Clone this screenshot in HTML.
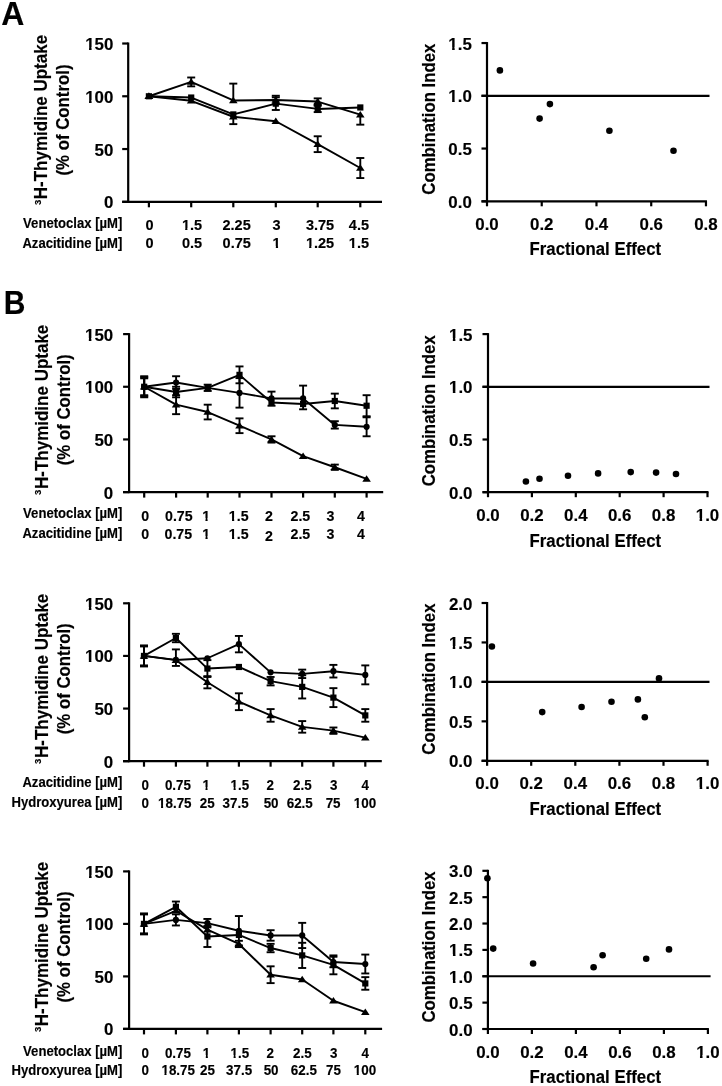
<!DOCTYPE html>
<html><head><meta charset="utf-8"><style>
html,body{margin:0;padding:0;background:#fff;width:722px;height:1086px;overflow:hidden}
svg{display:block;filter:grayscale(1)}
text{font-family:"Liberation Sans", sans-serif;fill:#000;stroke:#000;stroke-width:0.15px;stroke-linejoin:round}
</style></head><body>
<svg width="722" height="1086" viewBox="0 0 722 1086" stroke="#000" fill="#000">
<rect x="0" y="0" width="722" height="1086" fill="#fff" stroke="none"/>
<g stroke="#000" stroke-linecap="butt">
<g transform="translate(1.20 24.80) scale(1 1.05)"><text x="0" y="0" font-size="32" text-anchor="start" font-weight="bold">A</text></g>
<g transform="translate(3.70 314.10) scale(1 1.1)"><text x="0" y="0" font-size="30" text-anchor="start" font-weight="bold">B</text></g>
<line x1="128.20" y1="42.51" x2="128.20" y2="202.80" stroke-width="2.2"/>
<line x1="122.20" y1="201.80" x2="128.20" y2="201.80" stroke-width="2.2"/>
<g transform="translate(113.40 208.30) scale(1 1.03)"><text x="0" y="0" font-size="16.9" text-anchor="end" font-weight="bold">0</text></g>
<line x1="122.20" y1="149.04" x2="128.20" y2="149.04" stroke-width="2.2"/>
<g transform="translate(113.40 155.54) scale(1 1.03)"><text x="0" y="0" font-size="16.9" text-anchor="end" font-weight="bold">50</text></g>
<line x1="122.20" y1="96.27" x2="128.20" y2="96.27" stroke-width="2.2"/>
<g transform="translate(113.40 102.77) scale(1 1.03)"><text x="0" y="0" font-size="16.9" text-anchor="end" font-weight="bold">100</text></g>
<rect x="86.00" y="100.00" width="3.03" height="4.00" fill="#fff" stroke="none"/>
<rect x="91.59" y="100.00" width="3.33" height="4.00" fill="#fff" stroke="none"/>
<line x1="122.20" y1="43.51" x2="128.20" y2="43.51" stroke-width="2.2"/>
<g transform="translate(113.40 50.01) scale(1 1.03)"><text x="0" y="0" font-size="16.9" text-anchor="end" font-weight="bold">150</text></g>
<rect x="86.00" y="47.00" width="3.03" height="4.00" fill="#fff" stroke="none"/>
<rect x="91.59" y="47.00" width="3.19" height="4.00" fill="#fff" stroke="none"/>
<line x1="122.20" y1="201.80" x2="382.00" y2="201.80" stroke-width="2.2"/>
<line x1="148.90" y1="201.80" x2="148.90" y2="207.30" stroke-width="2.2"/>
<line x1="191.20" y1="201.80" x2="191.20" y2="207.30" stroke-width="2.2"/>
<line x1="233.30" y1="201.80" x2="233.30" y2="207.30" stroke-width="2.2"/>
<line x1="275.80" y1="201.80" x2="275.80" y2="207.30" stroke-width="2.2"/>
<line x1="317.70" y1="201.80" x2="317.70" y2="207.30" stroke-width="2.2"/>
<line x1="360.30" y1="201.80" x2="360.30" y2="207.30" stroke-width="2.2"/>
<g transform="translate(122.30 227.90) scale(1 1.05)"><text x="0" y="0" font-size="13.1" text-anchor="end" font-weight="bold">Venetoclax [µM]</text></g>
<g transform="translate(149.40 230.30) scale(1 1.05)"><text x="0" y="0" font-size="14.5" text-anchor="middle" font-weight="bold">0</text></g>
<g transform="translate(192.00 230.30) scale(1 1.05)"><text x="0" y="0" font-size="14.5" text-anchor="middle" font-weight="bold">1.5</text></g>
<rect x="182.00" y="228.00" width="3.19" height="3.00" fill="#fff" stroke="none"/>
<rect x="187.42" y="228.00" width="2.58" height="3.00" fill="#fff" stroke="none"/>
<g transform="translate(236.60 230.30) scale(1 1.05)"><text x="0" y="0" font-size="14.5" text-anchor="middle" font-weight="bold">2.25</text></g>
<g transform="translate(276.60 230.30) scale(1 1.05)"><text x="0" y="0" font-size="14.5" text-anchor="middle" font-weight="bold">3</text></g>
<g transform="translate(320.00 230.30) scale(1 1.05)"><text x="0" y="0" font-size="14.5" text-anchor="middle" font-weight="bold">3.75</text></g>
<g transform="translate(358.90 230.30) scale(1 1.05)"><text x="0" y="0" font-size="14.5" text-anchor="middle" font-weight="bold">4.5</text></g>
<g transform="translate(122.30 247.80) scale(1 1.05)"><text x="0" y="0" font-size="13.1" text-anchor="end" font-weight="bold">Azacitidine [µM]</text></g>
<g transform="translate(149.40 248.10) scale(1 1.05)"><text x="0" y="0" font-size="14.5" text-anchor="middle" font-weight="bold">0</text></g>
<g transform="translate(192.00 248.10) scale(1 1.05)"><text x="0" y="0" font-size="14.5" text-anchor="middle" font-weight="bold">0.5</text></g>
<g transform="translate(236.70 248.10) scale(1 1.05)"><text x="0" y="0" font-size="14.5" text-anchor="middle" font-weight="bold">0.75</text></g>
<g transform="translate(276.60 248.10) scale(1 1.05)"><text x="0" y="0" font-size="14.5" text-anchor="middle" font-weight="bold">1</text></g>
<rect x="273.00" y="246.00" width="2.83" height="3.00" fill="#fff" stroke="none"/>
<rect x="278.06" y="246.00" width="2.94" height="3.00" fill="#fff" stroke="none"/>
<g transform="translate(320.00 248.10) scale(1 1.05)"><text x="0" y="0" font-size="14.5" text-anchor="middle" font-weight="bold">1.25</text></g>
<rect x="306.00" y="246.00" width="3.15" height="3.00" fill="#fff" stroke="none"/>
<rect x="311.38" y="246.00" width="2.62" height="3.00" fill="#fff" stroke="none"/>
<g transform="translate(358.90 248.10) scale(1 1.05)"><text x="0" y="0" font-size="14.5" text-anchor="middle" font-weight="bold">1.5</text></g>
<rect x="349.00" y="246.00" width="3.09" height="3.00" fill="#fff" stroke="none"/>
<rect x="354.32" y="246.00" width="2.68" height="3.00" fill="#fff" stroke="none"/>
<g transform="translate(47.00 120.00) rotate(-90) scale(1 1.05)"><text x="0" y="0" font-size="16.8" text-anchor="middle" font-weight="bold"><tspan font-size="9.5" font-weight="bold" dy="-6.2">3</tspan><tspan dy="6.2" dx="0.6" font-size="17">H-Thymidine Uptake</tspan></text></g>
<g transform="translate(69.40 120.00) rotate(-90) scale(1 1.05)"><text x="0" y="0" font-size="16.8" text-anchor="middle" font-weight="bold">(% of Control)</text></g>
<polyline points="148.90,96.27 191.20,81.92 233.30,100.49 275.80,99.96 317.70,101.55 360.30,114.63" fill="none" stroke-width="1.9" stroke-linejoin="round"/>
<polyline points="148.90,96.27 191.20,97.54 233.30,114.42 275.80,103.66 317.70,108.93 360.30,107.46" fill="none" stroke-width="1.9" stroke-linejoin="round"/>
<polyline points="148.90,96.27 191.20,100.81 233.30,116.74 275.80,121.28 317.70,144.18 360.30,168.03" fill="none" stroke-width="1.9" stroke-linejoin="round"/>
<polygon points="148.90,92.57 153.20,99.07 144.60,99.07" stroke="none"/>
<line x1="191.20" y1="81.92" x2="191.20" y2="77.49" stroke-width="1.9"/>
<line x1="187.20" y1="77.49" x2="195.20" y2="77.49" stroke-width="1.9"/>
<line x1="191.20" y1="81.92" x2="191.20" y2="86.35" stroke-width="1.9"/>
<line x1="187.20" y1="86.35" x2="195.20" y2="86.35" stroke-width="1.9"/>
<polygon points="191.20,78.22 195.50,84.72 186.90,84.72" stroke="none"/>
<line x1="233.30" y1="100.49" x2="233.30" y2="83.61" stroke-width="1.9"/>
<line x1="229.30" y1="83.61" x2="237.30" y2="83.61" stroke-width="1.9"/>
<polygon points="233.30,96.79 237.60,103.29 229.00,103.29" stroke="none"/>
<line x1="275.80" y1="99.96" x2="275.80" y2="95.74" stroke-width="1.9"/>
<line x1="271.80" y1="95.74" x2="279.80" y2="95.74" stroke-width="1.9"/>
<line x1="275.80" y1="99.96" x2="275.80" y2="104.18" stroke-width="1.9"/>
<line x1="271.80" y1="104.18" x2="279.80" y2="104.18" stroke-width="1.9"/>
<polygon points="275.80,96.26 280.10,102.76 271.50,102.76" stroke="none"/>
<line x1="317.70" y1="101.55" x2="317.70" y2="98.38" stroke-width="1.9"/>
<line x1="313.70" y1="98.38" x2="321.70" y2="98.38" stroke-width="1.9"/>
<line x1="317.70" y1="101.55" x2="317.70" y2="104.71" stroke-width="1.9"/>
<line x1="313.70" y1="104.71" x2="321.70" y2="104.71" stroke-width="1.9"/>
<polygon points="317.70,97.85 322.00,104.35 313.40,104.35" stroke="none"/>
<line x1="360.30" y1="114.63" x2="360.30" y2="124.66" stroke-width="1.9"/>
<line x1="356.30" y1="124.66" x2="364.30" y2="124.66" stroke-width="1.9"/>
<polygon points="360.30,110.93 364.60,117.43 356.00,117.43" stroke="none"/>
<rect x="145.80" y="93.17" width="6.20" height="6.20" stroke="none"/>
<rect x="188.10" y="94.44" width="6.20" height="6.20" stroke="none"/>
<rect x="230.20" y="111.32" width="6.20" height="6.20" stroke="none"/>
<line x1="275.80" y1="103.66" x2="275.80" y2="97.33" stroke-width="1.9"/>
<line x1="271.80" y1="97.33" x2="279.80" y2="97.33" stroke-width="1.9"/>
<line x1="275.80" y1="103.66" x2="275.80" y2="109.99" stroke-width="1.9"/>
<line x1="271.80" y1="109.99" x2="279.80" y2="109.99" stroke-width="1.9"/>
<rect x="272.70" y="100.56" width="6.20" height="6.20" stroke="none"/>
<line x1="317.70" y1="108.93" x2="317.70" y2="105.77" stroke-width="1.9"/>
<line x1="313.70" y1="105.77" x2="321.70" y2="105.77" stroke-width="1.9"/>
<line x1="317.70" y1="108.93" x2="317.70" y2="112.10" stroke-width="1.9"/>
<line x1="313.70" y1="112.10" x2="321.70" y2="112.10" stroke-width="1.9"/>
<rect x="314.60" y="105.83" width="6.20" height="6.20" stroke="none"/>
<rect x="357.20" y="104.36" width="6.20" height="6.20" stroke="none"/>
<polygon points="148.90,92.57 153.20,99.07 144.60,99.07" stroke="none"/>
<polygon points="191.20,97.11 195.50,103.61 186.90,103.61" stroke="none"/>
<line x1="233.30" y1="116.74" x2="233.30" y2="124.13" stroke-width="1.9"/>
<line x1="229.30" y1="124.13" x2="237.30" y2="124.13" stroke-width="1.9"/>
<polygon points="233.30,113.04 237.60,119.54 229.00,119.54" stroke="none"/>
<polygon points="275.80,117.58 280.10,124.08 271.50,124.08" stroke="none"/>
<line x1="317.70" y1="144.18" x2="317.70" y2="136.27" stroke-width="1.9"/>
<line x1="313.70" y1="136.27" x2="321.70" y2="136.27" stroke-width="1.9"/>
<line x1="317.70" y1="144.18" x2="317.70" y2="152.10" stroke-width="1.9"/>
<line x1="313.70" y1="152.10" x2="321.70" y2="152.10" stroke-width="1.9"/>
<polygon points="317.70,140.48 322.00,146.98 313.40,146.98" stroke="none"/>
<line x1="360.30" y1="168.03" x2="360.30" y2="158.01" stroke-width="1.9"/>
<line x1="356.30" y1="158.01" x2="364.30" y2="158.01" stroke-width="1.9"/>
<line x1="360.30" y1="168.03" x2="360.30" y2="178.06" stroke-width="1.9"/>
<line x1="356.30" y1="178.06" x2="364.30" y2="178.06" stroke-width="1.9"/>
<polygon points="360.30,164.33 364.60,170.83 356.00,170.83" stroke="none"/>
<line x1="487.00" y1="42.05" x2="487.00" y2="202.30" stroke-width="2.2"/>
<line x1="481.50" y1="201.30" x2="487.00" y2="201.30" stroke-width="2.2"/>
<g transform="translate(471.80 207.80) scale(1 1.0)"><text x="0" y="0" font-size="16.9" text-anchor="end" font-weight="bold">0.0</text></g>
<line x1="481.50" y1="148.55" x2="487.00" y2="148.55" stroke-width="2.2"/>
<g transform="translate(471.80 155.05) scale(1 1.0)"><text x="0" y="0" font-size="16.9" text-anchor="end" font-weight="bold">0.5</text></g>
<line x1="481.50" y1="95.80" x2="487.00" y2="95.80" stroke-width="2.2"/>
<g transform="translate(471.80 102.30) scale(1 1.0)"><text x="0" y="0" font-size="16.9" text-anchor="end" font-weight="bold">1.0</text></g>
<rect x="449.00" y="100.00" width="3.13" height="3.00" fill="#fff" stroke="none"/>
<rect x="454.69" y="100.00" width="3.31" height="3.00" fill="#fff" stroke="none"/>
<line x1="481.50" y1="43.05" x2="487.00" y2="43.05" stroke-width="2.2"/>
<g transform="translate(471.80 49.55) scale(1 1.0)"><text x="0" y="0" font-size="16.9" text-anchor="end" font-weight="bold">1.5</text></g>
<rect x="449.00" y="47.00" width="3.13" height="3.00" fill="#fff" stroke="none"/>
<rect x="454.69" y="47.00" width="3.31" height="3.00" fill="#fff" stroke="none"/>
<line x1="481.50" y1="201.30" x2="706.96" y2="201.30" stroke-width="2.2"/>
<line x1="487.00" y1="201.30" x2="487.00" y2="206.30" stroke-width="2.2"/>
<g transform="translate(487.00 230.30) scale(1 1.0)"><text x="0" y="0" font-size="16.9" text-anchor="middle" font-weight="bold">0.0</text></g>
<line x1="541.74" y1="201.30" x2="541.74" y2="206.30" stroke-width="2.2"/>
<g transform="translate(541.74 230.30) scale(1 1.0)"><text x="0" y="0" font-size="16.9" text-anchor="middle" font-weight="bold">0.2</text></g>
<line x1="596.48" y1="201.30" x2="596.48" y2="206.30" stroke-width="2.2"/>
<g transform="translate(596.48 230.30) scale(1 1.0)"><text x="0" y="0" font-size="16.9" text-anchor="middle" font-weight="bold">0.4</text></g>
<line x1="651.22" y1="201.30" x2="651.22" y2="206.30" stroke-width="2.2"/>
<g transform="translate(651.22 230.30) scale(1 1.0)"><text x="0" y="0" font-size="16.9" text-anchor="middle" font-weight="bold">0.6</text></g>
<line x1="705.96" y1="201.30" x2="705.96" y2="206.30" stroke-width="2.2"/>
<g transform="translate(705.96 230.30) scale(1 1.0)"><text x="0" y="0" font-size="16.9" text-anchor="middle" font-weight="bold">0.8</text></g>
<line x1="481.50" y1="95.80" x2="709.50" y2="95.80" stroke-width="2.2"/>
<g transform="translate(595.30 254.90) scale(1 1.05)"><text x="0" y="0" font-size="16.8" text-anchor="middle" font-weight="bold">Fractional Effect</text></g>
<g transform="translate(434.60 119.15) rotate(-90) scale(1 1.05)"><text x="0" y="0" font-size="16.8" text-anchor="middle" font-weight="bold">Combination Index</text></g>
<circle cx="499.90" cy="70.40" r="3.3" stroke="none"/>
<circle cx="539.60" cy="118.60" r="3.3" stroke="none"/>
<circle cx="549.90" cy="104.10" r="3.3" stroke="none"/>
<circle cx="609.40" cy="130.70" r="3.3" stroke="none"/>
<circle cx="673.50" cy="150.80" r="3.3" stroke="none"/>
<line x1="129.10" y1="333.11" x2="129.10" y2="493.10" stroke-width="2.2"/>
<line x1="123.10" y1="492.10" x2="129.10" y2="492.10" stroke-width="2.2"/>
<g transform="translate(113.20 498.60) scale(1 1.03)"><text x="0" y="0" font-size="16.9" text-anchor="end" font-weight="bold">0</text></g>
<line x1="123.10" y1="439.44" x2="129.10" y2="439.44" stroke-width="2.2"/>
<g transform="translate(113.20 445.94) scale(1 1.03)"><text x="0" y="0" font-size="16.9" text-anchor="end" font-weight="bold">50</text></g>
<line x1="123.10" y1="386.77" x2="129.10" y2="386.77" stroke-width="2.2"/>
<g transform="translate(113.20 393.27) scale(1 1.03)"><text x="0" y="0" font-size="16.9" text-anchor="end" font-weight="bold">100</text></g>
<rect x="85.00" y="391.00" width="3.83" height="3.00" fill="#fff" stroke="none"/>
<rect x="91.39" y="391.00" width="3.33" height="3.00" fill="#fff" stroke="none"/>
<line x1="123.10" y1="334.11" x2="129.10" y2="334.11" stroke-width="2.2"/>
<g transform="translate(113.20 340.61) scale(1 1.03)"><text x="0" y="0" font-size="16.9" text-anchor="end" font-weight="bold">150</text></g>
<rect x="85.00" y="338.00" width="3.83" height="3.00" fill="#fff" stroke="none"/>
<rect x="91.39" y="338.00" width="3.19" height="3.00" fill="#fff" stroke="none"/>
<line x1="123.10" y1="492.10" x2="383.20" y2="492.10" stroke-width="2.2"/>
<line x1="144.20" y1="492.10" x2="144.20" y2="497.60" stroke-width="2.2"/>
<line x1="176.10" y1="492.10" x2="176.10" y2="497.60" stroke-width="2.2"/>
<line x1="207.70" y1="492.10" x2="207.70" y2="497.60" stroke-width="2.2"/>
<line x1="239.50" y1="492.10" x2="239.50" y2="497.60" stroke-width="2.2"/>
<line x1="271.50" y1="492.10" x2="271.50" y2="497.60" stroke-width="2.2"/>
<line x1="303.10" y1="492.10" x2="303.10" y2="497.60" stroke-width="2.2"/>
<line x1="334.80" y1="492.10" x2="334.80" y2="497.60" stroke-width="2.2"/>
<line x1="366.60" y1="492.10" x2="366.60" y2="497.60" stroke-width="2.2"/>
<g transform="translate(122.30 517.90) scale(1 1.05)"><text x="0" y="0" font-size="13.1" text-anchor="end" font-weight="bold">Venetoclax [µM]</text></g>
<g transform="translate(145.10 520.60) scale(1 1.05)"><text x="0" y="0" font-size="14.2" text-anchor="middle" font-weight="bold">0</text></g>
<g transform="translate(178.80 520.60) scale(1 1.05)"><text x="0" y="0" font-size="14.2" text-anchor="middle" font-weight="bold">0.75</text></g>
<g transform="translate(206.20 520.60) scale(1 1.05)"><text x="0" y="0" font-size="14.2" text-anchor="middle" font-weight="bold">1</text></g>
<rect x="202.00" y="518.00" width="3.45" height="3.00" fill="#fff" stroke="none"/>
<rect x="207.63" y="518.00" width="2.37" height="3.00" fill="#fff" stroke="none"/>
<g transform="translate(238.70 520.60) scale(1 1.05)"><text x="0" y="0" font-size="14.2" text-anchor="middle" font-weight="bold">1.5</text></g>
<rect x="229.00" y="518.00" width="3.02" height="3.00" fill="#fff" stroke="none"/>
<rect x="234.21" y="518.00" width="2.79" height="3.00" fill="#fff" stroke="none"/>
<g transform="translate(268.90 520.60) scale(1 1.05)"><text x="0" y="0" font-size="14.2" text-anchor="middle" font-weight="bold">2</text></g>
<g transform="translate(300.40 520.60) scale(1 1.05)"><text x="0" y="0" font-size="14.2" text-anchor="middle" font-weight="bold">2.5</text></g>
<g transform="translate(330.50 520.60) scale(1 1.05)"><text x="0" y="0" font-size="14.2" text-anchor="middle" font-weight="bold">3</text></g>
<g transform="translate(361.00 520.60) scale(1 1.05)"><text x="0" y="0" font-size="14.2" text-anchor="middle" font-weight="bold">4</text></g>
<g transform="translate(122.30 537.80) scale(1 1.05)"><text x="0" y="0" font-size="13.1" text-anchor="end" font-weight="bold">Azacitidine [µM]</text></g>
<g transform="translate(145.10 538.50) scale(1 1.05)"><text x="0" y="0" font-size="14.2" text-anchor="middle" font-weight="bold">0</text></g>
<g transform="translate(178.30 538.50) scale(1 1.05)"><text x="0" y="0" font-size="14.2" text-anchor="middle" font-weight="bold">0.75</text></g>
<g transform="translate(206.20 538.50) scale(1 1.05)"><text x="0" y="0" font-size="14.2" text-anchor="middle" font-weight="bold">1</text></g>
<rect x="202.00" y="536.00" width="3.45" height="3.00" fill="#fff" stroke="none"/>
<rect x="207.63" y="536.00" width="2.37" height="3.00" fill="#fff" stroke="none"/>
<g transform="translate(238.70 538.50) scale(1 1.05)"><text x="0" y="0" font-size="14.2" text-anchor="middle" font-weight="bold">1.5</text></g>
<rect x="229.00" y="536.00" width="3.02" height="3.00" fill="#fff" stroke="none"/>
<rect x="234.21" y="536.00" width="2.79" height="3.00" fill="#fff" stroke="none"/>
<g transform="translate(268.90 540.90) scale(1 1.05)"><text x="0" y="0" font-size="14.2" text-anchor="middle" font-weight="bold">2</text></g>
<g transform="translate(300.40 538.50) scale(1 1.05)"><text x="0" y="0" font-size="14.2" text-anchor="middle" font-weight="bold">2.5</text></g>
<g transform="translate(330.50 538.50) scale(1 1.05)"><text x="0" y="0" font-size="14.2" text-anchor="middle" font-weight="bold">3</text></g>
<g transform="translate(361.00 538.50) scale(1 1.05)"><text x="0" y="0" font-size="14.2" text-anchor="middle" font-weight="bold">4</text></g>
<g transform="translate(47.60 409.80) rotate(-90) scale(1 1.05)"><text x="0" y="0" font-size="16.8" text-anchor="middle" font-weight="bold"><tspan font-size="9.5" font-weight="bold" dy="-6.2">3</tspan><tspan dy="6.2" dx="0.6" font-size="17">H-Thymidine Uptake</tspan></text></g>
<g transform="translate(69.90 409.80) rotate(-90) scale(1 1.05)"><text x="0" y="0" font-size="16.8" text-anchor="middle" font-weight="bold">(% of Control)</text></g>
<polyline points="144.20,386.77 176.10,392.04 207.70,387.82 239.50,374.87 271.50,402.57 303.10,404.04 334.80,400.99 366.60,405.73" fill="none" stroke-width="1.9" stroke-linejoin="round"/>
<polyline points="144.20,386.77 176.10,382.56 207.70,387.82 239.50,392.88 271.50,398.46 303.10,398.46 334.80,424.90 366.60,426.80" fill="none" stroke-width="1.9" stroke-linejoin="round"/>
<polyline points="144.20,386.77 176.10,404.68 207.70,412.05 239.50,425.74 271.50,439.44 303.10,456.08 334.80,467.24 366.60,478.83" fill="none" stroke-width="1.9" stroke-linejoin="round"/>
<line x1="144.20" y1="386.77" x2="144.20" y2="376.24" stroke-width="1.9"/>
<line x1="140.20" y1="376.24" x2="148.20" y2="376.24" stroke-width="1.9"/>
<line x1="144.20" y1="386.77" x2="144.20" y2="397.30" stroke-width="1.9"/>
<line x1="140.20" y1="397.30" x2="148.20" y2="397.30" stroke-width="1.9"/>
<rect x="141.10" y="383.67" width="6.20" height="6.20" stroke="none"/>
<line x1="176.10" y1="392.04" x2="176.10" y2="386.77" stroke-width="1.9"/>
<line x1="172.10" y1="386.77" x2="180.10" y2="386.77" stroke-width="1.9"/>
<line x1="176.10" y1="392.04" x2="176.10" y2="397.30" stroke-width="1.9"/>
<line x1="172.10" y1="397.30" x2="180.10" y2="397.30" stroke-width="1.9"/>
<rect x="173.00" y="388.94" width="6.20" height="6.20" stroke="none"/>
<line x1="207.70" y1="387.82" x2="207.70" y2="384.66" stroke-width="1.9"/>
<line x1="203.70" y1="384.66" x2="211.70" y2="384.66" stroke-width="1.9"/>
<line x1="207.70" y1="387.82" x2="207.70" y2="390.98" stroke-width="1.9"/>
<line x1="203.70" y1="390.98" x2="211.70" y2="390.98" stroke-width="1.9"/>
<rect x="204.60" y="384.72" width="6.20" height="6.20" stroke="none"/>
<line x1="239.50" y1="374.87" x2="239.50" y2="366.44" stroke-width="1.9"/>
<line x1="235.50" y1="366.44" x2="243.50" y2="366.44" stroke-width="1.9"/>
<line x1="239.50" y1="374.87" x2="239.50" y2="383.29" stroke-width="1.9"/>
<line x1="235.50" y1="383.29" x2="243.50" y2="383.29" stroke-width="1.9"/>
<rect x="236.40" y="371.77" width="6.20" height="6.20" stroke="none"/>
<line x1="271.50" y1="402.57" x2="271.50" y2="405.73" stroke-width="1.9"/>
<line x1="267.50" y1="405.73" x2="275.50" y2="405.73" stroke-width="1.9"/>
<rect x="268.40" y="399.47" width="6.20" height="6.20" stroke="none"/>
<line x1="303.10" y1="404.04" x2="303.10" y2="409.31" stroke-width="1.9"/>
<line x1="299.10" y1="409.31" x2="307.10" y2="409.31" stroke-width="1.9"/>
<rect x="300.00" y="400.94" width="6.20" height="6.20" stroke="none"/>
<line x1="334.80" y1="400.99" x2="334.80" y2="393.62" stroke-width="1.9"/>
<line x1="330.80" y1="393.62" x2="338.80" y2="393.62" stroke-width="1.9"/>
<line x1="334.80" y1="400.99" x2="334.80" y2="408.36" stroke-width="1.9"/>
<line x1="330.80" y1="408.36" x2="338.80" y2="408.36" stroke-width="1.9"/>
<rect x="331.70" y="397.89" width="6.20" height="6.20" stroke="none"/>
<line x1="366.60" y1="405.73" x2="366.60" y2="395.20" stroke-width="1.9"/>
<line x1="362.60" y1="395.20" x2="370.60" y2="395.20" stroke-width="1.9"/>
<line x1="366.60" y1="405.73" x2="366.60" y2="416.26" stroke-width="1.9"/>
<line x1="362.60" y1="416.26" x2="370.60" y2="416.26" stroke-width="1.9"/>
<rect x="363.50" y="402.63" width="6.20" height="6.20" stroke="none"/>
<line x1="144.20" y1="386.77" x2="144.20" y2="378.34" stroke-width="1.9"/>
<line x1="140.20" y1="378.34" x2="148.20" y2="378.34" stroke-width="1.9"/>
<line x1="144.20" y1="386.77" x2="144.20" y2="395.20" stroke-width="1.9"/>
<line x1="140.20" y1="395.20" x2="148.20" y2="395.20" stroke-width="1.9"/>
<circle cx="144.20" cy="386.77" r="3.10" stroke="none"/>
<line x1="176.10" y1="382.56" x2="176.10" y2="376.24" stroke-width="1.9"/>
<line x1="172.10" y1="376.24" x2="180.10" y2="376.24" stroke-width="1.9"/>
<line x1="176.10" y1="382.56" x2="176.10" y2="388.88" stroke-width="1.9"/>
<line x1="172.10" y1="388.88" x2="180.10" y2="388.88" stroke-width="1.9"/>
<circle cx="176.10" cy="382.56" r="3.10" stroke="none"/>
<circle cx="207.70" cy="387.82" r="3.10" stroke="none"/>
<line x1="239.50" y1="392.88" x2="239.50" y2="378.13" stroke-width="1.9"/>
<line x1="235.50" y1="378.13" x2="243.50" y2="378.13" stroke-width="1.9"/>
<line x1="239.50" y1="392.88" x2="239.50" y2="407.63" stroke-width="1.9"/>
<line x1="235.50" y1="407.63" x2="243.50" y2="407.63" stroke-width="1.9"/>
<circle cx="239.50" cy="392.88" r="3.10" stroke="none"/>
<line x1="271.50" y1="398.46" x2="271.50" y2="391.62" stroke-width="1.9"/>
<line x1="267.50" y1="391.62" x2="275.50" y2="391.62" stroke-width="1.9"/>
<circle cx="271.50" cy="398.46" r="3.10" stroke="none"/>
<line x1="303.10" y1="398.46" x2="303.10" y2="385.61" stroke-width="1.9"/>
<line x1="299.10" y1="385.61" x2="307.10" y2="385.61" stroke-width="1.9"/>
<circle cx="303.10" cy="398.46" r="3.10" stroke="none"/>
<line x1="334.80" y1="424.90" x2="334.80" y2="421.21" stroke-width="1.9"/>
<line x1="330.80" y1="421.21" x2="338.80" y2="421.21" stroke-width="1.9"/>
<line x1="334.80" y1="424.90" x2="334.80" y2="428.59" stroke-width="1.9"/>
<line x1="330.80" y1="428.59" x2="338.80" y2="428.59" stroke-width="1.9"/>
<circle cx="334.80" cy="424.90" r="3.10" stroke="none"/>
<line x1="366.60" y1="426.80" x2="366.60" y2="417.32" stroke-width="1.9"/>
<line x1="362.60" y1="417.32" x2="370.60" y2="417.32" stroke-width="1.9"/>
<line x1="366.60" y1="426.80" x2="366.60" y2="436.28" stroke-width="1.9"/>
<line x1="362.60" y1="436.28" x2="370.60" y2="436.28" stroke-width="1.9"/>
<circle cx="366.60" cy="426.80" r="3.10" stroke="none"/>
<line x1="144.20" y1="386.77" x2="144.20" y2="377.29" stroke-width="1.9"/>
<line x1="140.20" y1="377.29" x2="148.20" y2="377.29" stroke-width="1.9"/>
<line x1="144.20" y1="386.77" x2="144.20" y2="396.25" stroke-width="1.9"/>
<line x1="140.20" y1="396.25" x2="148.20" y2="396.25" stroke-width="1.9"/>
<polygon points="144.20,383.07 148.50,389.57 139.90,389.57" stroke="none"/>
<line x1="176.10" y1="404.68" x2="176.10" y2="395.20" stroke-width="1.9"/>
<line x1="172.10" y1="395.20" x2="180.10" y2="395.20" stroke-width="1.9"/>
<line x1="176.10" y1="404.68" x2="176.10" y2="414.16" stroke-width="1.9"/>
<line x1="172.10" y1="414.16" x2="180.10" y2="414.16" stroke-width="1.9"/>
<polygon points="176.10,400.98 180.40,407.48 171.80,407.48" stroke="none"/>
<line x1="207.70" y1="412.05" x2="207.70" y2="404.68" stroke-width="1.9"/>
<line x1="203.70" y1="404.68" x2="211.70" y2="404.68" stroke-width="1.9"/>
<line x1="207.70" y1="412.05" x2="207.70" y2="419.42" stroke-width="1.9"/>
<line x1="203.70" y1="419.42" x2="211.70" y2="419.42" stroke-width="1.9"/>
<polygon points="207.70,408.35 212.00,414.85 203.40,414.85" stroke="none"/>
<line x1="239.50" y1="425.74" x2="239.50" y2="418.37" stroke-width="1.9"/>
<line x1="235.50" y1="418.37" x2="243.50" y2="418.37" stroke-width="1.9"/>
<line x1="239.50" y1="425.74" x2="239.50" y2="433.12" stroke-width="1.9"/>
<line x1="235.50" y1="433.12" x2="243.50" y2="433.12" stroke-width="1.9"/>
<polygon points="239.50,422.04 243.80,428.54 235.20,428.54" stroke="none"/>
<line x1="271.50" y1="439.44" x2="271.50" y2="436.28" stroke-width="1.9"/>
<line x1="267.50" y1="436.28" x2="275.50" y2="436.28" stroke-width="1.9"/>
<line x1="271.50" y1="439.44" x2="271.50" y2="442.59" stroke-width="1.9"/>
<line x1="267.50" y1="442.59" x2="275.50" y2="442.59" stroke-width="1.9"/>
<polygon points="271.50,435.74 275.80,442.24 267.20,442.24" stroke="none"/>
<polygon points="303.10,452.38 307.40,458.88 298.80,458.88" stroke="none"/>
<line x1="334.80" y1="467.24" x2="334.80" y2="464.61" stroke-width="1.9"/>
<line x1="330.80" y1="464.61" x2="338.80" y2="464.61" stroke-width="1.9"/>
<line x1="334.80" y1="467.24" x2="334.80" y2="469.88" stroke-width="1.9"/>
<line x1="330.80" y1="469.88" x2="338.80" y2="469.88" stroke-width="1.9"/>
<polygon points="334.80,463.54 339.10,470.04 330.50,470.04" stroke="none"/>
<polygon points="366.60,475.13 370.90,481.63 362.30,481.63" stroke="none"/>
<line x1="488.00" y1="333.10" x2="488.00" y2="493.20" stroke-width="2.2"/>
<line x1="482.50" y1="492.20" x2="488.00" y2="492.20" stroke-width="2.2"/>
<g transform="translate(472.50 498.70) scale(1 1.0)"><text x="0" y="0" font-size="16.9" text-anchor="end" font-weight="bold">0.0</text></g>
<line x1="482.50" y1="439.50" x2="488.00" y2="439.50" stroke-width="2.2"/>
<g transform="translate(472.50 446.00) scale(1 1.0)"><text x="0" y="0" font-size="16.9" text-anchor="end" font-weight="bold">0.5</text></g>
<line x1="482.50" y1="386.80" x2="488.00" y2="386.80" stroke-width="2.2"/>
<g transform="translate(472.50 393.30) scale(1 1.0)"><text x="0" y="0" font-size="16.9" text-anchor="end" font-weight="bold">1.0</text></g>
<rect x="449.00" y="391.00" width="3.83" height="3.00" fill="#fff" stroke="none"/>
<rect x="455.39" y="391.00" width="3.61" height="3.00" fill="#fff" stroke="none"/>
<line x1="482.50" y1="334.10" x2="488.00" y2="334.10" stroke-width="2.2"/>
<g transform="translate(472.50 340.60) scale(1 1.0)"><text x="0" y="0" font-size="16.9" text-anchor="end" font-weight="bold">1.5</text></g>
<rect x="449.00" y="338.00" width="3.83" height="3.00" fill="#fff" stroke="none"/>
<rect x="455.39" y="338.00" width="3.61" height="3.00" fill="#fff" stroke="none"/>
<line x1="482.50" y1="492.20" x2="708.50" y2="492.20" stroke-width="2.2"/>
<line x1="488.00" y1="492.20" x2="488.00" y2="497.20" stroke-width="2.2"/>
<g transform="translate(488.00 521.00) scale(1 1.0)"><text x="0" y="0" font-size="16.9" text-anchor="middle" font-weight="bold">0.0</text></g>
<line x1="531.90" y1="492.20" x2="531.90" y2="497.20" stroke-width="2.2"/>
<g transform="translate(531.90 521.00) scale(1 1.0)"><text x="0" y="0" font-size="16.9" text-anchor="middle" font-weight="bold">0.2</text></g>
<line x1="575.80" y1="492.20" x2="575.80" y2="497.20" stroke-width="2.2"/>
<g transform="translate(575.80 521.00) scale(1 1.0)"><text x="0" y="0" font-size="16.9" text-anchor="middle" font-weight="bold">0.4</text></g>
<line x1="619.70" y1="492.20" x2="619.70" y2="497.20" stroke-width="2.2"/>
<g transform="translate(619.70 521.00) scale(1 1.0)"><text x="0" y="0" font-size="16.9" text-anchor="middle" font-weight="bold">0.6</text></g>
<line x1="663.60" y1="492.20" x2="663.60" y2="497.20" stroke-width="2.2"/>
<g transform="translate(663.60 521.00) scale(1 1.0)"><text x="0" y="0" font-size="16.9" text-anchor="middle" font-weight="bold">0.8</text></g>
<line x1="707.50" y1="492.20" x2="707.50" y2="497.20" stroke-width="2.2"/>
<g transform="translate(707.50 521.00) scale(1 1.0)"><text x="0" y="0" font-size="16.9" text-anchor="middle" font-weight="bold">1.0</text></g>
<rect x="696.00" y="518.00" width="3.58" height="4.00" fill="#fff" stroke="none"/>
<rect x="702.14" y="518.00" width="2.86" height="4.00" fill="#fff" stroke="none"/>
<line x1="482.50" y1="386.80" x2="709.50" y2="386.80" stroke-width="2.2"/>
<g transform="translate(595.30 547.10) scale(1 1.05)"><text x="0" y="0" font-size="16.8" text-anchor="middle" font-weight="bold">Fractional Effect</text></g>
<g transform="translate(434.60 410.80) rotate(-90) scale(1 1.05)"><text x="0" y="0" font-size="16.8" text-anchor="middle" font-weight="bold">Combination Index</text></g>
<circle cx="525.90" cy="481.50" r="3.3" stroke="none"/>
<circle cx="539.50" cy="478.80" r="3.3" stroke="none"/>
<circle cx="568.00" cy="475.70" r="3.3" stroke="none"/>
<circle cx="598.10" cy="473.40" r="3.3" stroke="none"/>
<circle cx="630.70" cy="472.10" r="3.3" stroke="none"/>
<circle cx="656.10" cy="472.60" r="3.3" stroke="none"/>
<circle cx="676.00" cy="474.00" r="3.3" stroke="none"/>
<line x1="129.10" y1="602.30" x2="129.10" y2="762.20" stroke-width="2.2"/>
<line x1="123.10" y1="761.20" x2="129.10" y2="761.20" stroke-width="2.2"/>
<g transform="translate(113.20 767.70) scale(1 1.03)"><text x="0" y="0" font-size="16.9" text-anchor="end" font-weight="bold">0</text></g>
<line x1="123.10" y1="708.57" x2="129.10" y2="708.57" stroke-width="2.2"/>
<g transform="translate(113.20 715.07) scale(1 1.03)"><text x="0" y="0" font-size="16.9" text-anchor="end" font-weight="bold">50</text></g>
<line x1="123.10" y1="655.93" x2="129.10" y2="655.93" stroke-width="2.2"/>
<g transform="translate(113.20 662.43) scale(1 1.03)"><text x="0" y="0" font-size="16.9" text-anchor="end" font-weight="bold">100</text></g>
<rect x="85.00" y="660.00" width="3.83" height="3.00" fill="#fff" stroke="none"/>
<rect x="91.39" y="660.00" width="3.33" height="3.00" fill="#fff" stroke="none"/>
<line x1="123.10" y1="603.30" x2="129.10" y2="603.30" stroke-width="2.2"/>
<g transform="translate(113.20 609.80) scale(1 1.03)"><text x="0" y="0" font-size="16.9" text-anchor="end" font-weight="bold">150</text></g>
<rect x="85.00" y="607.00" width="3.83" height="4.00" fill="#fff" stroke="none"/>
<rect x="91.39" y="607.00" width="3.19" height="4.00" fill="#fff" stroke="none"/>
<line x1="123.10" y1="761.20" x2="381.80" y2="761.20" stroke-width="2.2"/>
<line x1="144.00" y1="761.20" x2="144.00" y2="766.70" stroke-width="2.2"/>
<line x1="175.90" y1="761.20" x2="175.90" y2="766.70" stroke-width="2.2"/>
<line x1="207.40" y1="761.20" x2="207.40" y2="766.70" stroke-width="2.2"/>
<line x1="238.90" y1="761.20" x2="238.90" y2="766.70" stroke-width="2.2"/>
<line x1="270.60" y1="761.20" x2="270.60" y2="766.70" stroke-width="2.2"/>
<line x1="302.20" y1="761.20" x2="302.20" y2="766.70" stroke-width="2.2"/>
<line x1="333.40" y1="761.20" x2="333.40" y2="766.70" stroke-width="2.2"/>
<line x1="365.30" y1="761.20" x2="365.30" y2="766.70" stroke-width="2.2"/>
<g transform="translate(122.30 787.00) scale(1 1.05)"><text x="0" y="0" font-size="13.1" text-anchor="end" font-weight="bold">Azacitidine [µM]</text></g>
<g transform="translate(145.10 789.60) scale(1 1.05)"><text x="0" y="0" font-size="13.4" text-anchor="middle" font-weight="bold">0</text></g>
<g transform="translate(177.90 789.60) scale(1 1.05)"><text x="0" y="0" font-size="13.4" text-anchor="middle" font-weight="bold">0.75</text></g>
<g transform="translate(206.20 789.60) scale(1 1.05)"><text x="0" y="0" font-size="13.4" text-anchor="middle" font-weight="bold">1</text></g>
<rect x="203.00" y="787.00" width="2.48" height="3.00" fill="#fff" stroke="none"/>
<rect x="207.56" y="787.00" width="2.44" height="3.00" fill="#fff" stroke="none"/>
<g transform="translate(239.90 789.60) scale(1 1.05)"><text x="0" y="0" font-size="13.4" text-anchor="middle" font-weight="bold">1.5</text></g>
<rect x="231.00" y="787.00" width="2.59" height="3.00" fill="#fff" stroke="none"/>
<rect x="235.67" y="787.00" width="2.33" height="3.00" fill="#fff" stroke="none"/>
<g transform="translate(270.20 789.60) scale(1 1.05)"><text x="0" y="0" font-size="13.4" text-anchor="middle" font-weight="bold">2</text></g>
<g transform="translate(302.30 789.60) scale(1 1.05)"><text x="0" y="0" font-size="13.4" text-anchor="middle" font-weight="bold">2.5</text></g>
<g transform="translate(333.60 789.60) scale(1 1.05)"><text x="0" y="0" font-size="13.4" text-anchor="middle" font-weight="bold">3</text></g>
<g transform="translate(365.10 789.60) scale(1 1.05)"><text x="0" y="0" font-size="13.4" text-anchor="middle" font-weight="bold">4</text></g>
<g transform="translate(122.30 807.40) scale(1 1.05)"><text x="0" y="0" font-size="13.1" text-anchor="end" font-weight="bold">Hydroxyurea [µM]</text></g>
<g transform="translate(145.10 807.60) scale(1 1.05)"><text x="0" y="0" font-size="13.4" text-anchor="middle" font-weight="bold">0</text></g>
<g transform="translate(174.80 807.60) scale(1 1.05)"><text x="0" y="0" font-size="13.4" text-anchor="middle" font-weight="bold">18.75</text></g>
<rect x="158.00" y="805.00" width="3.04" height="3.00" fill="#fff" stroke="none"/>
<rect x="163.12" y="805.00" width="2.44" height="3.00" fill="#fff" stroke="none"/>
<g transform="translate(207.20 807.60) scale(1 1.05)"><text x="0" y="0" font-size="13.4" text-anchor="middle" font-weight="bold">25</text></g>
<g transform="translate(235.60 807.60) scale(1 1.05)"><text x="0" y="0" font-size="13.4" text-anchor="middle" font-weight="bold">37.5</text></g>
<g transform="translate(271.10 807.60) scale(1 1.05)"><text x="0" y="0" font-size="13.4" text-anchor="middle" font-weight="bold">50</text></g>
<g transform="translate(299.70 807.60) scale(1 1.05)"><text x="0" y="0" font-size="13.4" text-anchor="middle" font-weight="bold">62.5</text></g>
<g transform="translate(333.10 807.60) scale(1 1.05)"><text x="0" y="0" font-size="13.4" text-anchor="middle" font-weight="bold">75</text></g>
<g transform="translate(364.90 807.60) scale(1 1.05)"><text x="0" y="0" font-size="13.4" text-anchor="middle" font-weight="bold">100</text></g>
<rect x="354.00" y="805.00" width="2.73" height="3.00" fill="#fff" stroke="none"/>
<rect x="358.81" y="805.00" width="2.55" height="3.00" fill="#fff" stroke="none"/>
<g transform="translate(47.60 678.80) rotate(-90) scale(1 1.05)"><text x="0" y="0" font-size="16.8" text-anchor="middle" font-weight="bold"><tspan font-size="9.5" font-weight="bold" dy="-6.2">3</tspan><tspan dy="6.2" dx="0.6" font-size="17">H-Thymidine Uptake</tspan></text></g>
<g transform="translate(69.90 678.80) rotate(-90) scale(1 1.05)"><text x="0" y="0" font-size="16.8" text-anchor="middle" font-weight="bold">(% of Control)</text></g>
<polyline points="144.00,655.93 175.90,638.03 207.40,668.56 238.90,666.98 270.60,681.19 302.20,686.88 333.40,697.62 365.30,715.41" fill="none" stroke-width="1.9" stroke-linejoin="round"/>
<polyline points="144.00,655.93 175.90,659.93 207.40,658.25 238.90,644.14 270.60,672.35 302.20,673.83 333.40,671.19 365.30,674.88" fill="none" stroke-width="1.9" stroke-linejoin="round"/>
<polyline points="144.00,655.93 175.90,660.14 207.40,682.25 238.90,701.72 270.60,715.41 302.20,726.88 333.40,730.67 365.30,737.62" fill="none" stroke-width="1.9" stroke-linejoin="round"/>
<line x1="144.00" y1="655.93" x2="144.00" y2="645.40" stroke-width="1.9"/>
<line x1="140.00" y1="645.40" x2="148.00" y2="645.40" stroke-width="1.9"/>
<line x1="144.00" y1="655.93" x2="144.00" y2="666.46" stroke-width="1.9"/>
<line x1="140.00" y1="666.46" x2="148.00" y2="666.46" stroke-width="1.9"/>
<rect x="140.90" y="652.83" width="6.20" height="6.20" stroke="none"/>
<line x1="175.90" y1="638.03" x2="175.90" y2="633.82" stroke-width="1.9"/>
<line x1="171.90" y1="633.82" x2="179.90" y2="633.82" stroke-width="1.9"/>
<line x1="175.90" y1="638.03" x2="175.90" y2="642.24" stroke-width="1.9"/>
<line x1="171.90" y1="642.24" x2="179.90" y2="642.24" stroke-width="1.9"/>
<rect x="172.80" y="634.93" width="6.20" height="6.20" stroke="none"/>
<line x1="207.40" y1="668.56" x2="207.40" y2="660.14" stroke-width="1.9"/>
<line x1="203.40" y1="660.14" x2="211.40" y2="660.14" stroke-width="1.9"/>
<line x1="207.40" y1="668.56" x2="207.40" y2="676.98" stroke-width="1.9"/>
<line x1="203.40" y1="676.98" x2="211.40" y2="676.98" stroke-width="1.9"/>
<rect x="204.30" y="665.46" width="6.20" height="6.20" stroke="none"/>
<rect x="235.80" y="663.88" width="6.20" height="6.20" stroke="none"/>
<line x1="270.60" y1="681.19" x2="270.60" y2="676.98" stroke-width="1.9"/>
<line x1="266.60" y1="676.98" x2="274.60" y2="676.98" stroke-width="1.9"/>
<line x1="270.60" y1="681.19" x2="270.60" y2="685.41" stroke-width="1.9"/>
<line x1="266.60" y1="685.41" x2="274.60" y2="685.41" stroke-width="1.9"/>
<rect x="267.50" y="678.09" width="6.20" height="6.20" stroke="none"/>
<line x1="302.20" y1="686.88" x2="302.20" y2="675.30" stroke-width="1.9"/>
<line x1="298.20" y1="675.30" x2="306.20" y2="675.30" stroke-width="1.9"/>
<line x1="302.20" y1="686.88" x2="302.20" y2="698.46" stroke-width="1.9"/>
<line x1="298.20" y1="698.46" x2="306.20" y2="698.46" stroke-width="1.9"/>
<rect x="299.10" y="683.78" width="6.20" height="6.20" stroke="none"/>
<line x1="333.40" y1="697.62" x2="333.40" y2="688.14" stroke-width="1.9"/>
<line x1="329.40" y1="688.14" x2="337.40" y2="688.14" stroke-width="1.9"/>
<line x1="333.40" y1="697.62" x2="333.40" y2="707.09" stroke-width="1.9"/>
<line x1="329.40" y1="707.09" x2="337.40" y2="707.09" stroke-width="1.9"/>
<rect x="330.30" y="694.52" width="6.20" height="6.20" stroke="none"/>
<line x1="365.30" y1="715.41" x2="365.30" y2="709.09" stroke-width="1.9"/>
<line x1="361.30" y1="709.09" x2="369.30" y2="709.09" stroke-width="1.9"/>
<line x1="365.30" y1="715.41" x2="365.30" y2="721.72" stroke-width="1.9"/>
<line x1="361.30" y1="721.72" x2="369.30" y2="721.72" stroke-width="1.9"/>
<rect x="362.20" y="712.31" width="6.20" height="6.20" stroke="none"/>
<line x1="144.00" y1="655.93" x2="144.00" y2="646.46" stroke-width="1.9"/>
<line x1="140.00" y1="646.46" x2="148.00" y2="646.46" stroke-width="1.9"/>
<line x1="144.00" y1="655.93" x2="144.00" y2="665.40" stroke-width="1.9"/>
<line x1="140.00" y1="665.40" x2="148.00" y2="665.40" stroke-width="1.9"/>
<circle cx="144.00" cy="655.93" r="3.10" stroke="none"/>
<line x1="175.90" y1="659.93" x2="175.90" y2="649.40" stroke-width="1.9"/>
<line x1="171.90" y1="649.40" x2="179.90" y2="649.40" stroke-width="1.9"/>
<circle cx="175.90" cy="659.93" r="3.10" stroke="none"/>
<circle cx="207.40" cy="658.25" r="3.10" stroke="none"/>
<line x1="238.90" y1="644.14" x2="238.90" y2="635.93" stroke-width="1.9"/>
<line x1="234.90" y1="635.93" x2="242.90" y2="635.93" stroke-width="1.9"/>
<line x1="238.90" y1="644.14" x2="238.90" y2="652.35" stroke-width="1.9"/>
<line x1="234.90" y1="652.35" x2="242.90" y2="652.35" stroke-width="1.9"/>
<circle cx="238.90" cy="644.14" r="3.10" stroke="none"/>
<circle cx="270.60" cy="672.35" r="3.10" stroke="none"/>
<line x1="302.20" y1="673.83" x2="302.20" y2="669.62" stroke-width="1.9"/>
<line x1="298.20" y1="669.62" x2="306.20" y2="669.62" stroke-width="1.9"/>
<line x1="302.20" y1="673.83" x2="302.20" y2="678.04" stroke-width="1.9"/>
<line x1="298.20" y1="678.04" x2="306.20" y2="678.04" stroke-width="1.9"/>
<circle cx="302.20" cy="673.83" r="3.10" stroke="none"/>
<line x1="333.40" y1="671.19" x2="333.40" y2="664.88" stroke-width="1.9"/>
<line x1="329.40" y1="664.88" x2="337.40" y2="664.88" stroke-width="1.9"/>
<line x1="333.40" y1="671.19" x2="333.40" y2="677.51" stroke-width="1.9"/>
<line x1="329.40" y1="677.51" x2="337.40" y2="677.51" stroke-width="1.9"/>
<circle cx="333.40" cy="671.19" r="3.10" stroke="none"/>
<line x1="365.30" y1="674.88" x2="365.30" y2="665.40" stroke-width="1.9"/>
<line x1="361.30" y1="665.40" x2="369.30" y2="665.40" stroke-width="1.9"/>
<line x1="365.30" y1="674.88" x2="365.30" y2="684.35" stroke-width="1.9"/>
<line x1="361.30" y1="684.35" x2="369.30" y2="684.35" stroke-width="1.9"/>
<circle cx="365.30" cy="674.88" r="3.10" stroke="none"/>
<polygon points="144.00,652.23 148.30,658.73 139.70,658.73" stroke="none"/>
<line x1="175.90" y1="660.14" x2="175.90" y2="665.93" stroke-width="1.9"/>
<line x1="171.90" y1="665.93" x2="179.90" y2="665.93" stroke-width="1.9"/>
<polygon points="175.90,656.44 180.20,662.94 171.60,662.94" stroke="none"/>
<line x1="207.40" y1="682.25" x2="207.40" y2="676.14" stroke-width="1.9"/>
<line x1="203.40" y1="676.14" x2="211.40" y2="676.14" stroke-width="1.9"/>
<line x1="207.40" y1="682.25" x2="207.40" y2="688.35" stroke-width="1.9"/>
<line x1="203.40" y1="688.35" x2="211.40" y2="688.35" stroke-width="1.9"/>
<polygon points="207.40,678.55 211.70,685.05 203.10,685.05" stroke="none"/>
<line x1="238.90" y1="701.72" x2="238.90" y2="693.30" stroke-width="1.9"/>
<line x1="234.90" y1="693.30" x2="242.90" y2="693.30" stroke-width="1.9"/>
<line x1="238.90" y1="701.72" x2="238.90" y2="710.14" stroke-width="1.9"/>
<line x1="234.90" y1="710.14" x2="242.90" y2="710.14" stroke-width="1.9"/>
<polygon points="238.90,698.02 243.20,704.52 234.60,704.52" stroke="none"/>
<line x1="270.60" y1="715.41" x2="270.60" y2="709.09" stroke-width="1.9"/>
<line x1="266.60" y1="709.09" x2="274.60" y2="709.09" stroke-width="1.9"/>
<line x1="270.60" y1="715.41" x2="270.60" y2="721.72" stroke-width="1.9"/>
<line x1="266.60" y1="721.72" x2="274.60" y2="721.72" stroke-width="1.9"/>
<polygon points="270.60,711.71 274.90,718.21 266.30,718.21" stroke="none"/>
<line x1="302.20" y1="726.88" x2="302.20" y2="721.09" stroke-width="1.9"/>
<line x1="298.20" y1="721.09" x2="306.20" y2="721.09" stroke-width="1.9"/>
<line x1="302.20" y1="726.88" x2="302.20" y2="732.67" stroke-width="1.9"/>
<line x1="298.20" y1="732.67" x2="306.20" y2="732.67" stroke-width="1.9"/>
<polygon points="302.20,723.18 306.50,729.68 297.90,729.68" stroke="none"/>
<line x1="333.40" y1="730.67" x2="333.40" y2="727.51" stroke-width="1.9"/>
<line x1="329.40" y1="727.51" x2="337.40" y2="727.51" stroke-width="1.9"/>
<line x1="333.40" y1="730.67" x2="333.40" y2="733.83" stroke-width="1.9"/>
<line x1="329.40" y1="733.83" x2="337.40" y2="733.83" stroke-width="1.9"/>
<polygon points="333.40,726.97 337.70,733.47 329.10,733.47" stroke="none"/>
<polygon points="365.30,733.92 369.60,740.42 361.00,740.42" stroke="none"/>
<line x1="487.10" y1="602.00" x2="487.10" y2="761.80" stroke-width="2.2"/>
<line x1="481.60" y1="760.80" x2="487.10" y2="760.80" stroke-width="2.2"/>
<g transform="translate(472.40 767.30) scale(1 1.0)"><text x="0" y="0" font-size="16.9" text-anchor="end" font-weight="bold">0.0</text></g>
<line x1="481.60" y1="721.35" x2="487.10" y2="721.35" stroke-width="2.2"/>
<g transform="translate(472.40 727.85) scale(1 1.0)"><text x="0" y="0" font-size="16.9" text-anchor="end" font-weight="bold">0.5</text></g>
<line x1="481.60" y1="681.90" x2="487.10" y2="681.90" stroke-width="2.2"/>
<g transform="translate(472.40 688.40) scale(1 1.0)"><text x="0" y="0" font-size="16.9" text-anchor="end" font-weight="bold">1.0</text></g>
<rect x="449.00" y="686.00" width="3.73" height="3.00" fill="#fff" stroke="none"/>
<rect x="455.29" y="686.00" width="3.71" height="3.00" fill="#fff" stroke="none"/>
<line x1="481.60" y1="642.45" x2="487.10" y2="642.45" stroke-width="2.2"/>
<g transform="translate(472.40 648.95) scale(1 1.0)"><text x="0" y="0" font-size="16.9" text-anchor="end" font-weight="bold">1.5</text></g>
<rect x="449.00" y="646.00" width="3.73" height="4.00" fill="#fff" stroke="none"/>
<rect x="455.29" y="646.00" width="3.71" height="4.00" fill="#fff" stroke="none"/>
<line x1="481.60" y1="603.00" x2="487.10" y2="603.00" stroke-width="2.2"/>
<g transform="translate(472.40 609.50) scale(1 1.0)"><text x="0" y="0" font-size="16.9" text-anchor="end" font-weight="bold">2.0</text></g>
<line x1="481.60" y1="760.80" x2="708.60" y2="760.80" stroke-width="2.2"/>
<line x1="487.10" y1="760.80" x2="487.10" y2="765.80" stroke-width="2.2"/>
<g transform="translate(487.10 789.40) scale(1 1.0)"><text x="0" y="0" font-size="16.9" text-anchor="middle" font-weight="bold">0.0</text></g>
<line x1="531.20" y1="760.80" x2="531.20" y2="765.80" stroke-width="2.2"/>
<g transform="translate(531.20 789.40) scale(1 1.0)"><text x="0" y="0" font-size="16.9" text-anchor="middle" font-weight="bold">0.2</text></g>
<line x1="575.30" y1="760.80" x2="575.30" y2="765.80" stroke-width="2.2"/>
<g transform="translate(575.30 789.40) scale(1 1.0)"><text x="0" y="0" font-size="16.9" text-anchor="middle" font-weight="bold">0.4</text></g>
<line x1="619.40" y1="760.80" x2="619.40" y2="765.80" stroke-width="2.2"/>
<g transform="translate(619.40 789.40) scale(1 1.0)"><text x="0" y="0" font-size="16.9" text-anchor="middle" font-weight="bold">0.6</text></g>
<line x1="663.50" y1="760.80" x2="663.50" y2="765.80" stroke-width="2.2"/>
<g transform="translate(663.50 789.40) scale(1 1.0)"><text x="0" y="0" font-size="16.9" text-anchor="middle" font-weight="bold">0.8</text></g>
<line x1="707.60" y1="760.80" x2="707.60" y2="765.80" stroke-width="2.2"/>
<g transform="translate(707.60 789.40) scale(1 1.0)"><text x="0" y="0" font-size="16.9" text-anchor="middle" font-weight="bold">1.0</text></g>
<rect x="696.00" y="787.00" width="3.68" height="3.00" fill="#fff" stroke="none"/>
<rect x="702.24" y="787.00" width="2.76" height="3.00" fill="#fff" stroke="none"/>
<line x1="481.60" y1="681.90" x2="709.50" y2="681.90" stroke-width="2.2"/>
<g transform="translate(595.30 815.30) scale(1 1.05)"><text x="0" y="0" font-size="16.8" text-anchor="middle" font-weight="bold">Fractional Effect</text></g>
<g transform="translate(434.60 679.10) rotate(-90) scale(1 1.05)"><text x="0" y="0" font-size="16.8" text-anchor="middle" font-weight="bold">Combination Index</text></g>
<circle cx="491.90" cy="646.50" r="3.3" stroke="none"/>
<circle cx="542.20" cy="712.10" r="3.3" stroke="none"/>
<circle cx="581.60" cy="707.00" r="3.3" stroke="none"/>
<circle cx="611.50" cy="701.70" r="3.3" stroke="none"/>
<circle cx="637.90" cy="699.40" r="3.3" stroke="none"/>
<circle cx="644.80" cy="717.20" r="3.3" stroke="none"/>
<circle cx="659.00" cy="678.40" r="3.3" stroke="none"/>
<line x1="129.10" y1="870.40" x2="129.10" y2="1029.90" stroke-width="2.2"/>
<line x1="123.10" y1="1028.90" x2="129.10" y2="1028.90" stroke-width="2.2"/>
<g transform="translate(113.40 1035.40) scale(1 1.03)"><text x="0" y="0" font-size="16.9" text-anchor="end" font-weight="bold">0</text></g>
<line x1="123.10" y1="976.40" x2="129.10" y2="976.40" stroke-width="2.2"/>
<g transform="translate(113.40 982.90) scale(1 1.03)"><text x="0" y="0" font-size="16.9" text-anchor="end" font-weight="bold">50</text></g>
<line x1="123.10" y1="923.90" x2="129.10" y2="923.90" stroke-width="2.2"/>
<g transform="translate(113.40 930.40) scale(1 1.03)"><text x="0" y="0" font-size="16.9" text-anchor="end" font-weight="bold">100</text></g>
<rect x="86.00" y="928.00" width="3.03" height="3.00" fill="#fff" stroke="none"/>
<rect x="91.59" y="928.00" width="3.33" height="3.00" fill="#fff" stroke="none"/>
<line x1="123.10" y1="871.40" x2="129.10" y2="871.40" stroke-width="2.2"/>
<g transform="translate(113.40 877.90) scale(1 1.03)"><text x="0" y="0" font-size="16.9" text-anchor="end" font-weight="bold">150</text></g>
<rect x="86.00" y="875.00" width="3.03" height="4.00" fill="#fff" stroke="none"/>
<rect x="91.59" y="875.00" width="3.19" height="4.00" fill="#fff" stroke="none"/>
<line x1="123.10" y1="1028.90" x2="382.10" y2="1028.90" stroke-width="2.2"/>
<line x1="144.00" y1="1028.90" x2="144.00" y2="1034.40" stroke-width="2.2"/>
<line x1="175.90" y1="1028.90" x2="175.90" y2="1034.40" stroke-width="2.2"/>
<line x1="207.40" y1="1028.90" x2="207.40" y2="1034.40" stroke-width="2.2"/>
<line x1="238.90" y1="1028.90" x2="238.90" y2="1034.40" stroke-width="2.2"/>
<line x1="270.60" y1="1028.90" x2="270.60" y2="1034.40" stroke-width="2.2"/>
<line x1="302.20" y1="1028.90" x2="302.20" y2="1034.40" stroke-width="2.2"/>
<line x1="333.40" y1="1028.90" x2="333.40" y2="1034.40" stroke-width="2.2"/>
<line x1="365.30" y1="1028.90" x2="365.30" y2="1034.40" stroke-width="2.2"/>
<g transform="translate(122.30 1056.00) scale(1 1.05)"><text x="0" y="0" font-size="13.1" text-anchor="end" font-weight="bold">Venetoclax [µM]</text></g>
<g transform="translate(145.10 1057.60) scale(1 1.05)"><text x="0" y="0" font-size="13.4" text-anchor="middle" font-weight="bold">0</text></g>
<g transform="translate(177.90 1057.60) scale(1 1.05)"><text x="0" y="0" font-size="13.4" text-anchor="middle" font-weight="bold">0.75</text></g>
<g transform="translate(206.50 1057.60) scale(1 1.05)"><text x="0" y="0" font-size="13.4" text-anchor="middle" font-weight="bold">1</text></g>
<rect x="203.00" y="1055.00" width="2.78" height="3.00" fill="#fff" stroke="none"/>
<rect x="207.86" y="1055.00" width="3.14" height="3.00" fill="#fff" stroke="none"/>
<g transform="translate(239.90 1057.60) scale(1 1.05)"><text x="0" y="0" font-size="13.4" text-anchor="middle" font-weight="bold">1.5</text></g>
<rect x="231.00" y="1055.00" width="2.59" height="3.00" fill="#fff" stroke="none"/>
<rect x="235.67" y="1055.00" width="2.33" height="3.00" fill="#fff" stroke="none"/>
<g transform="translate(270.20 1057.60) scale(1 1.05)"><text x="0" y="0" font-size="13.4" text-anchor="middle" font-weight="bold">2</text></g>
<g transform="translate(302.30 1057.60) scale(1 1.05)"><text x="0" y="0" font-size="13.4" text-anchor="middle" font-weight="bold">2.5</text></g>
<g transform="translate(333.60 1057.60) scale(1 1.05)"><text x="0" y="0" font-size="13.4" text-anchor="middle" font-weight="bold">3</text></g>
<g transform="translate(365.10 1057.60) scale(1 1.05)"><text x="0" y="0" font-size="13.4" text-anchor="middle" font-weight="bold">4</text></g>
<g transform="translate(122.30 1074.80) scale(1 1.05)"><text x="0" y="0" font-size="13.1" text-anchor="end" font-weight="bold">Hydroxyurea [µM]</text></g>
<g transform="translate(145.10 1075.30) scale(1 1.05)"><text x="0" y="0" font-size="13.4" text-anchor="middle" font-weight="bold">0</text></g>
<g transform="translate(178.20 1075.30) scale(1 1.05)"><text x="0" y="0" font-size="13.4" text-anchor="middle" font-weight="bold">18.75</text></g>
<rect x="162.00" y="1073.00" width="2.44" height="3.00" fill="#fff" stroke="none"/>
<rect x="166.52" y="1073.00" width="2.44" height="3.00" fill="#fff" stroke="none"/>
<g transform="translate(207.40 1075.30) scale(1 1.05)"><text x="0" y="0" font-size="13.4" text-anchor="middle" font-weight="bold">25</text></g>
<g transform="translate(239.10 1075.30) scale(1 1.05)"><text x="0" y="0" font-size="13.4" text-anchor="middle" font-weight="bold">37.5</text></g>
<g transform="translate(271.10 1075.30) scale(1 1.05)"><text x="0" y="0" font-size="13.4" text-anchor="middle" font-weight="bold">50</text></g>
<g transform="translate(303.80 1075.30) scale(1 1.05)"><text x="0" y="0" font-size="13.4" text-anchor="middle" font-weight="bold">62.5</text></g>
<g transform="translate(333.40 1075.30) scale(1 1.05)"><text x="0" y="0" font-size="13.4" text-anchor="middle" font-weight="bold">75</text></g>
<g transform="translate(364.90 1075.30) scale(1 1.05)"><text x="0" y="0" font-size="13.4" text-anchor="middle" font-weight="bold">100</text></g>
<rect x="354.00" y="1073.00" width="2.73" height="3.00" fill="#fff" stroke="none"/>
<rect x="358.81" y="1073.00" width="2.55" height="3.00" fill="#fff" stroke="none"/>
<g transform="translate(47.60 947.00) rotate(-90) scale(1 1.05)"><text x="0" y="0" font-size="16.8" text-anchor="middle" font-weight="bold"><tspan font-size="9.5" font-weight="bold" dy="-6.2">3</tspan><tspan dy="6.2" dx="0.6" font-size="17">H-Thymidine Uptake</tspan></text></g>
<g transform="translate(69.90 947.00) rotate(-90) scale(1 1.05)"><text x="0" y="0" font-size="16.8" text-anchor="middle" font-weight="bold">(% of Control)</text></g>
<polyline points="144.00,923.90 175.90,906.79 207.40,936.50 238.90,934.93 270.60,948.05 302.20,955.40 333.40,964.85 365.30,983.44" fill="none" stroke-width="1.9" stroke-linejoin="round"/>
<polyline points="144.00,923.90 175.90,919.91 207.40,923.17 238.90,930.73 270.60,935.45 302.20,935.45 333.40,962.02 365.30,964.01" fill="none" stroke-width="1.9" stroke-linejoin="round"/>
<polyline points="144.00,923.90 175.90,910.78 207.40,929.68 238.90,943.96 270.60,974.72 302.20,979.55 333.40,1000.76 365.30,1012.10" fill="none" stroke-width="1.9" stroke-linejoin="round"/>
<line x1="144.00" y1="923.90" x2="144.00" y2="913.40" stroke-width="1.9"/>
<line x1="140.00" y1="913.40" x2="148.00" y2="913.40" stroke-width="1.9"/>
<line x1="144.00" y1="923.90" x2="144.00" y2="934.40" stroke-width="1.9"/>
<line x1="140.00" y1="934.40" x2="148.00" y2="934.40" stroke-width="1.9"/>
<rect x="140.90" y="920.80" width="6.20" height="6.20" stroke="none"/>
<line x1="175.90" y1="906.79" x2="175.90" y2="901.54" stroke-width="1.9"/>
<line x1="171.90" y1="901.54" x2="179.90" y2="901.54" stroke-width="1.9"/>
<line x1="175.90" y1="906.79" x2="175.90" y2="912.04" stroke-width="1.9"/>
<line x1="171.90" y1="912.04" x2="179.90" y2="912.04" stroke-width="1.9"/>
<rect x="172.80" y="903.69" width="6.20" height="6.20" stroke="none"/>
<line x1="207.40" y1="936.50" x2="207.40" y2="926.00" stroke-width="1.9"/>
<line x1="203.40" y1="926.00" x2="211.40" y2="926.00" stroke-width="1.9"/>
<line x1="207.40" y1="936.50" x2="207.40" y2="947.00" stroke-width="1.9"/>
<line x1="203.40" y1="947.00" x2="211.40" y2="947.00" stroke-width="1.9"/>
<rect x="204.30" y="933.40" width="6.20" height="6.20" stroke="none"/>
<rect x="235.80" y="931.83" width="6.20" height="6.20" stroke="none"/>
<line x1="270.60" y1="948.05" x2="270.60" y2="943.85" stroke-width="1.9"/>
<line x1="266.60" y1="943.85" x2="274.60" y2="943.85" stroke-width="1.9"/>
<line x1="270.60" y1="948.05" x2="270.60" y2="952.25" stroke-width="1.9"/>
<line x1="266.60" y1="952.25" x2="274.60" y2="952.25" stroke-width="1.9"/>
<rect x="267.50" y="944.95" width="6.20" height="6.20" stroke="none"/>
<line x1="302.20" y1="955.40" x2="302.20" y2="942.80" stroke-width="1.9"/>
<line x1="298.20" y1="942.80" x2="306.20" y2="942.80" stroke-width="1.9"/>
<line x1="302.20" y1="955.40" x2="302.20" y2="968.00" stroke-width="1.9"/>
<line x1="298.20" y1="968.00" x2="306.20" y2="968.00" stroke-width="1.9"/>
<rect x="299.10" y="952.30" width="6.20" height="6.20" stroke="none"/>
<line x1="333.40" y1="964.85" x2="333.40" y2="955.40" stroke-width="1.9"/>
<line x1="329.40" y1="955.40" x2="337.40" y2="955.40" stroke-width="1.9"/>
<line x1="333.40" y1="964.85" x2="333.40" y2="974.30" stroke-width="1.9"/>
<line x1="329.40" y1="974.30" x2="337.40" y2="974.30" stroke-width="1.9"/>
<rect x="330.30" y="961.75" width="6.20" height="6.20" stroke="none"/>
<line x1="365.30" y1="983.44" x2="365.30" y2="977.14" stroke-width="1.9"/>
<line x1="361.30" y1="977.14" x2="369.30" y2="977.14" stroke-width="1.9"/>
<line x1="365.30" y1="983.44" x2="365.30" y2="989.74" stroke-width="1.9"/>
<line x1="361.30" y1="989.74" x2="369.30" y2="989.74" stroke-width="1.9"/>
<rect x="362.20" y="980.34" width="6.20" height="6.20" stroke="none"/>
<line x1="144.00" y1="923.90" x2="144.00" y2="914.45" stroke-width="1.9"/>
<line x1="140.00" y1="914.45" x2="148.00" y2="914.45" stroke-width="1.9"/>
<line x1="144.00" y1="923.90" x2="144.00" y2="933.35" stroke-width="1.9"/>
<line x1="140.00" y1="933.35" x2="148.00" y2="933.35" stroke-width="1.9"/>
<circle cx="144.00" cy="923.90" r="3.10" stroke="none"/>
<line x1="175.90" y1="919.91" x2="175.90" y2="914.35" stroke-width="1.9"/>
<line x1="171.90" y1="914.35" x2="179.90" y2="914.35" stroke-width="1.9"/>
<line x1="175.90" y1="919.91" x2="175.90" y2="925.48" stroke-width="1.9"/>
<line x1="171.90" y1="925.48" x2="179.90" y2="925.48" stroke-width="1.9"/>
<circle cx="175.90" cy="919.91" r="3.10" stroke="none"/>
<line x1="207.40" y1="923.17" x2="207.40" y2="918.97" stroke-width="1.9"/>
<line x1="203.40" y1="918.97" x2="211.40" y2="918.97" stroke-width="1.9"/>
<line x1="207.40" y1="923.17" x2="207.40" y2="927.37" stroke-width="1.9"/>
<line x1="203.40" y1="927.37" x2="211.40" y2="927.37" stroke-width="1.9"/>
<circle cx="207.40" cy="923.17" r="3.10" stroke="none"/>
<line x1="238.90" y1="930.73" x2="238.90" y2="916.03" stroke-width="1.9"/>
<line x1="234.90" y1="916.03" x2="242.90" y2="916.03" stroke-width="1.9"/>
<line x1="238.90" y1="930.73" x2="238.90" y2="945.43" stroke-width="1.9"/>
<line x1="234.90" y1="945.43" x2="242.90" y2="945.43" stroke-width="1.9"/>
<circle cx="238.90" cy="930.73" r="3.10" stroke="none"/>
<line x1="270.60" y1="935.45" x2="270.60" y2="930.20" stroke-width="1.9"/>
<line x1="266.60" y1="930.20" x2="274.60" y2="930.20" stroke-width="1.9"/>
<line x1="270.60" y1="935.45" x2="270.60" y2="940.70" stroke-width="1.9"/>
<line x1="266.60" y1="940.70" x2="274.60" y2="940.70" stroke-width="1.9"/>
<circle cx="270.60" cy="935.45" r="3.10" stroke="none"/>
<line x1="302.20" y1="935.45" x2="302.20" y2="922.85" stroke-width="1.9"/>
<line x1="298.20" y1="922.85" x2="306.20" y2="922.85" stroke-width="1.9"/>
<line x1="302.20" y1="935.45" x2="302.20" y2="948.05" stroke-width="1.9"/>
<line x1="298.20" y1="948.05" x2="306.20" y2="948.05" stroke-width="1.9"/>
<circle cx="302.20" cy="935.45" r="3.10" stroke="none"/>
<line x1="333.40" y1="962.02" x2="333.40" y2="956.77" stroke-width="1.9"/>
<line x1="329.40" y1="956.77" x2="337.40" y2="956.77" stroke-width="1.9"/>
<line x1="333.40" y1="962.02" x2="333.40" y2="967.27" stroke-width="1.9"/>
<line x1="329.40" y1="967.27" x2="337.40" y2="967.27" stroke-width="1.9"/>
<circle cx="333.40" cy="962.02" r="3.10" stroke="none"/>
<line x1="365.30" y1="964.01" x2="365.30" y2="954.56" stroke-width="1.9"/>
<line x1="361.30" y1="954.56" x2="369.30" y2="954.56" stroke-width="1.9"/>
<line x1="365.30" y1="964.01" x2="365.30" y2="973.46" stroke-width="1.9"/>
<line x1="361.30" y1="973.46" x2="369.30" y2="973.46" stroke-width="1.9"/>
<circle cx="365.30" cy="964.01" r="3.10" stroke="none"/>
<polygon points="144.00,920.20 148.30,926.70 139.70,926.70" stroke="none"/>
<polygon points="175.90,907.08 180.20,913.58 171.60,913.58" stroke="none"/>
<polygon points="207.40,925.98 211.70,932.48 203.10,932.48" stroke="none"/>
<line x1="238.90" y1="943.96" x2="238.90" y2="940.81" stroke-width="1.9"/>
<line x1="234.90" y1="940.81" x2="242.90" y2="940.81" stroke-width="1.9"/>
<line x1="238.90" y1="943.96" x2="238.90" y2="947.11" stroke-width="1.9"/>
<line x1="234.90" y1="947.11" x2="242.90" y2="947.11" stroke-width="1.9"/>
<polygon points="238.90,940.25 243.20,946.75 234.60,946.75" stroke="none"/>
<line x1="270.60" y1="974.72" x2="270.60" y2="966.32" stroke-width="1.9"/>
<line x1="266.60" y1="966.32" x2="274.60" y2="966.32" stroke-width="1.9"/>
<line x1="270.60" y1="974.72" x2="270.60" y2="983.12" stroke-width="1.9"/>
<line x1="266.60" y1="983.12" x2="274.60" y2="983.12" stroke-width="1.9"/>
<polygon points="270.60,971.02 274.90,977.52 266.30,977.52" stroke="none"/>
<polygon points="302.20,975.85 306.50,982.35 297.90,982.35" stroke="none"/>
<polygon points="333.40,997.06 337.70,1003.56 329.10,1003.56" stroke="none"/>
<polygon points="365.30,1008.40 369.60,1014.90 361.00,1014.90" stroke="none"/>
<line x1="487.90" y1="869.81" x2="487.90" y2="1030.00" stroke-width="2.2"/>
<line x1="482.40" y1="1029.00" x2="487.90" y2="1029.00" stroke-width="2.2"/>
<g transform="translate(472.60 1035.50) scale(1 1.0)"><text x="0" y="0" font-size="16.9" text-anchor="end" font-weight="bold">0.0</text></g>
<line x1="482.40" y1="1002.63" x2="487.90" y2="1002.63" stroke-width="2.2"/>
<g transform="translate(472.60 1009.13) scale(1 1.0)"><text x="0" y="0" font-size="16.9" text-anchor="end" font-weight="bold">0.5</text></g>
<line x1="482.40" y1="976.27" x2="487.90" y2="976.27" stroke-width="2.2"/>
<g transform="translate(472.60 982.77) scale(1 1.0)"><text x="0" y="0" font-size="16.9" text-anchor="end" font-weight="bold">1.0</text></g>
<rect x="449.00" y="980.00" width="3.93" height="4.00" fill="#fff" stroke="none"/>
<rect x="455.49" y="980.00" width="3.51" height="4.00" fill="#fff" stroke="none"/>
<line x1="482.40" y1="949.90" x2="487.90" y2="949.90" stroke-width="2.2"/>
<g transform="translate(472.60 956.40) scale(1 1.0)"><text x="0" y="0" font-size="16.9" text-anchor="end" font-weight="bold">1.5</text></g>
<rect x="449.00" y="954.00" width="3.93" height="3.00" fill="#fff" stroke="none"/>
<rect x="455.49" y="954.00" width="3.51" height="3.00" fill="#fff" stroke="none"/>
<line x1="482.40" y1="923.54" x2="487.90" y2="923.54" stroke-width="2.2"/>
<g transform="translate(472.60 930.04) scale(1 1.0)"><text x="0" y="0" font-size="16.9" text-anchor="end" font-weight="bold">2.0</text></g>
<line x1="482.40" y1="897.17" x2="487.90" y2="897.17" stroke-width="2.2"/>
<g transform="translate(472.60 903.67) scale(1 1.0)"><text x="0" y="0" font-size="16.9" text-anchor="end" font-weight="bold">2.5</text></g>
<line x1="482.40" y1="870.81" x2="487.90" y2="870.81" stroke-width="2.2"/>
<g transform="translate(472.60 877.31) scale(1 1.0)"><text x="0" y="0" font-size="16.9" text-anchor="end" font-weight="bold">3.0</text></g>
<line x1="482.40" y1="1029.00" x2="708.90" y2="1029.00" stroke-width="2.2"/>
<line x1="487.90" y1="1029.00" x2="487.90" y2="1034.00" stroke-width="2.2"/>
<g transform="translate(487.90 1057.80) scale(1 1.0)"><text x="0" y="0" font-size="16.9" text-anchor="middle" font-weight="bold">0.0</text></g>
<line x1="531.90" y1="1029.00" x2="531.90" y2="1034.00" stroke-width="2.2"/>
<g transform="translate(531.90 1057.80) scale(1 1.0)"><text x="0" y="0" font-size="16.9" text-anchor="middle" font-weight="bold">0.2</text></g>
<line x1="575.90" y1="1029.00" x2="575.90" y2="1034.00" stroke-width="2.2"/>
<g transform="translate(575.90 1057.80) scale(1 1.0)"><text x="0" y="0" font-size="16.9" text-anchor="middle" font-weight="bold">0.4</text></g>
<line x1="619.90" y1="1029.00" x2="619.90" y2="1034.00" stroke-width="2.2"/>
<g transform="translate(619.90 1057.80) scale(1 1.0)"><text x="0" y="0" font-size="16.9" text-anchor="middle" font-weight="bold">0.6</text></g>
<line x1="663.90" y1="1029.00" x2="663.90" y2="1034.00" stroke-width="2.2"/>
<g transform="translate(663.90 1057.80) scale(1 1.0)"><text x="0" y="0" font-size="16.9" text-anchor="middle" font-weight="bold">0.8</text></g>
<line x1="707.90" y1="1029.00" x2="707.90" y2="1034.00" stroke-width="2.2"/>
<g transform="translate(707.90 1057.80) scale(1 1.0)"><text x="0" y="0" font-size="16.9" text-anchor="middle" font-weight="bold">1.0</text></g>
<rect x="697.00" y="1055.00" width="2.98" height="4.00" fill="#fff" stroke="none"/>
<rect x="702.54" y="1055.00" width="3.46" height="4.00" fill="#fff" stroke="none"/>
<line x1="482.40" y1="976.27" x2="710.60" y2="976.27" stroke-width="2.2"/>
<g transform="translate(595.30 1083.30) scale(1 1.05)"><text x="0" y="0" font-size="16.8" text-anchor="middle" font-weight="bold">Fractional Effect</text></g>
<g transform="translate(434.60 947.00) rotate(-90) scale(1 1.05)"><text x="0" y="0" font-size="16.8" text-anchor="middle" font-weight="bold">Combination Index</text></g>
<circle cx="487.40" cy="878.30" r="3.3" stroke="none"/>
<circle cx="493.20" cy="948.60" r="3.3" stroke="none"/>
<circle cx="533.10" cy="963.50" r="3.3" stroke="none"/>
<circle cx="593.60" cy="967.30" r="3.3" stroke="none"/>
<circle cx="602.60" cy="955.30" r="3.3" stroke="none"/>
<circle cx="646.20" cy="958.80" r="3.3" stroke="none"/>
<circle cx="669.00" cy="949.40" r="3.3" stroke="none"/>
</g>
</svg>
</body></html>
